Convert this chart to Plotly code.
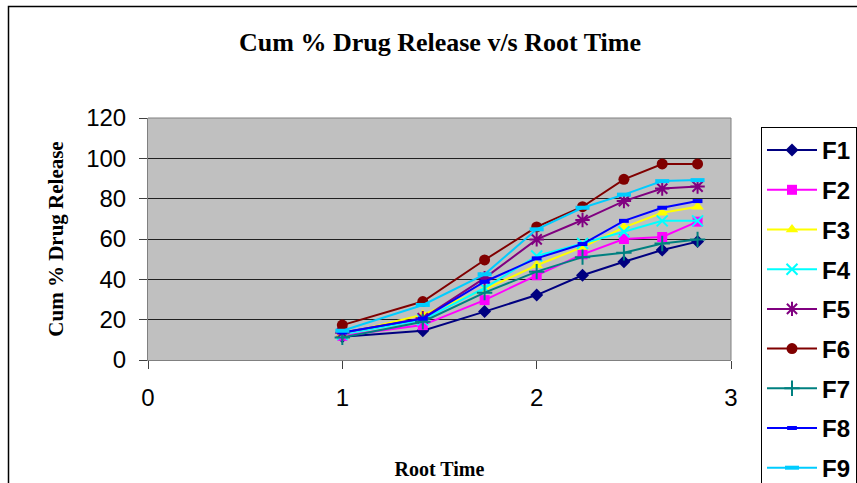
import plotly.graph_objects as go

root_time = [1.0, 1.414, 1.732, 2.0, 2.236, 2.449, 2.646, 2.828]
series_names = ["F1", "F2", "F3", "F4", "F5", "F6", "F7", "F8", "F9"]
F1 = [11.5, 14.5, 24.0, 32.2, 42.0, 48.7, 54.5, 58.7]
F2 = [12.0, 17.3, 29.7, 42.0, 52.4, 60.0, 61.0, 68.6]
F3 = [12.8, 22.5, 35.0, 47.0, 56.0, 65.8, 73.0, 76.0]
F4 = [12.8, 19.9, 35.7, 51.6, 57.8, 63.6, 69.0, 69.0]
F5 = [13.5, 20.7, 40.6, 59.8, 69.4, 78.8, 85.0, 86.0]
F6 = [17.3, 29.0, 49.6, 66.0, 76.0, 89.6, 97.2, 97.2]
F7 = [11.2, 19.0, 33.4, 43.8, 51.0, 53.2, 57.8, 59.8]
F8 = [13.6, 20.5, 38.8, 50.4, 57.5, 69.0, 75.5, 78.8]
F9 = [14.5, 27.3, 42.5, 64.8, 75.5, 82.0, 88.7, 89.2]
values = [F1, F2, F3, F4, F5, F6, F7, F8, F9]

colors = ["#000080", "#FF00FF", "#FFFF00", "#00FFFF", "#800080",
          "#800000", "#008080", "#0000FF", "#00CCFF"]
symbols = ["diamond", "square", "triangle-up", "x-thin", "asterisk",
           "circle", "cross-thin", "line-ew", "line-ew"]
sizes = [10, 10, 11, 11, 12, 11, 11, 7, 10]

fig = go.Figure()
for name, ys, c, s, sz in zip(series_names, values, colors, symbols, sizes):
    lw = 2 if s in ("x-thin", "asterisk", "cross-thin") else (4 if s == "line-ew" else 0)
    fig.add_trace(go.Scatter(
        x=root_time, y=ys, name="<b>" + name + "</b>", legendgroup=name,
        mode="lines+markers",
        line=dict(color=c, width=2),
        marker=dict(symbol=s, size=sz, color=c,
                    line=dict(color=c, width=lw)),
    ))

fig.update_layout(
    width=857, height=483,
    margin=dict(l=148, r=126, t=118, b=123, autoexpand=False),
    paper_bgcolor="white",
    plot_bgcolor="#C0C0C0",
    title=dict(text="<b>Cum % Drug Release v/s Root Time</b>",
               x=440 / 857, xanchor="center", y=1 - 42 / 483, yanchor="middle",
               font=dict(family="Liberation Serif", size=26, color="black")),
    xaxis=dict(range=[0, 3], tickvals=[0, 1, 2, 3], showgrid=False, zeroline=False,
               ticks="outside", ticklen=8, tickcolor="#404040",
               ticklabelstandoff=8,
               showline=True, linecolor="#808080", linewidth=1,
               tickfont=dict(family="Liberation Sans", size=24, color="black"),
               title=dict(text="<b>Root Time</b>", standoff=52,
                          font=dict(family="Liberation Serif", size=20, color="black"))),
    yaxis=dict(range=[0, 120], tickvals=[0, 20, 40, 60, 80, 100, 120],
               showgrid=True, gridcolor="#202020", gridwidth=1, zeroline=False,
               ticks="outside", ticklen=8, tickcolor="#404040",
               ticklabelstandoff=8,
               showline=True, linecolor="#808080", linewidth=1,
               tickfont=dict(family="Liberation Sans", size=24, color="black"),
               title=dict(text="<b>Cum % Drug Release</b>", standoff=16,
                          font=dict(family="Liberation Serif", size=21, color="black"))),
    legend=dict(xref="container", yref="container",
                x=761 / 857, y=1 - 127 / 483, xanchor="left", yanchor="top",
                bordercolor="black", borderwidth=1, bgcolor="white",
                font=dict(family="Liberation Sans", size=24, color="black"),
                tracegroupgap=5.5, maxheight=600, itemwidth=50),
    showlegend=True,
    shapes=[
        dict(type="rect", xref="paper", yref="paper",
             x0=(8.5 - 148) / 583, x1=(880 - 148) / 583,
             y0=(360 - 500) / 242, y1=(360 - 6.5) / 242,
             line=dict(color="black", width=1.5), fillcolor="rgba(0,0,0,0)", layer="below"),
        dict(type="line", xref="paper", yref="paper", x0=0, x1=1, y0=1, y1=1,
             line=dict(color="#808080", width=1)),
        dict(type="line", xref="paper", yref="paper", x0=1, x1=1, y0=0, y1=1,
             line=dict(color="#808080", width=1)),
    ],
)

fig.write_html("out.html")
